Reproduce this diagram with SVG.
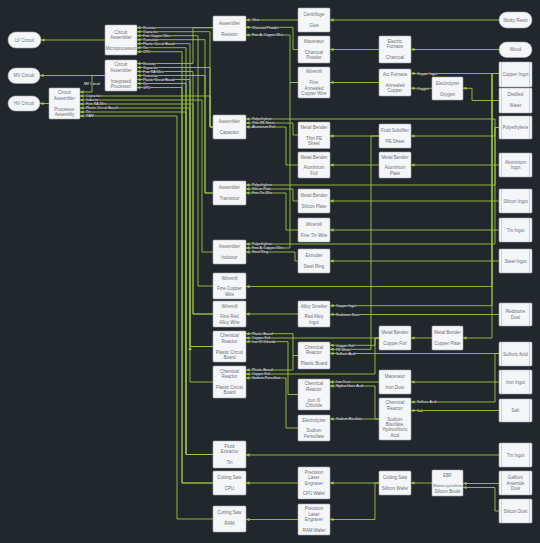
<svg xmlns="http://www.w3.org/2000/svg" width="540" height="543" viewBox="0 0 540 543">
<style>
.bg{fill:#22262d}
.nd rect{fill:#f5f6f8;stroke:#a7acb3;stroke-width:0.6}
.nd line{stroke:#a7acb3;stroke-width:0.5}
.nd text{font-family:"Liberation Sans",Arial,sans-serif;font-size:4.5px;fill:#6b7079;text-anchor:middle}
.cn path{fill:none;stroke:#9cc63b;stroke-width:0.9;marker-end:url(#a)}
.cn text{font-family:"Liberation Sans",Arial,sans-serif;font-size:3.5px;fill:#ffffff;stroke:#22262d;stroke-width:0.6;paint-order:stroke}
</style>
<defs>
<marker id="a" viewBox="0 0 4 4" refX="4" refY="2" markerWidth="3.5" markerHeight="3.5" markerUnits="userSpaceOnUse" orient="auto"><path d="M0,0 L4,2 L0,4z" fill="#9cc63b"/></marker>
</defs>
<rect class="bg" x="0" y="0" width="540" height="543"/>
<g id="connectors" class="cn">
<path d="M105,40 H41"/>
<path d="M105,75.5 H40"/>
<path d="M105,75.5 H92 V92 H80"/>
<path d="M49,103.5 H40"/>
<path d="M213,27.7 H137"/>
<path d="M213,27.7 H193 V63.5 H137"/>
<path d="M213,127 H210 V31.7 H137"/>
<path d="M213,127 H210 V67.5 H137"/>
<path d="M213,127 H210 V96 H80"/>
<path d="M213,286 H198 V35.7 H137"/>
<path d="M213,193 H205 V39.7 H137"/>
<path d="M213,193 H205 V75.5 H137"/>
<path d="M213,346.5 H190 V43.7 H137"/>
<path d="M213,346.5 H190 V79.5 H137"/>
<path d="M213,346.5 H190 V108 H80"/>
<path d="M213,382 H190 V346.5"/>
<path d="M213,454.5 H186 V47.7 H137"/>
<path d="M213,454.5 H186 V83.5 H137"/>
<path d="M213,454.5 H186 V112 H80"/>
<path d="M213,483 H182 V51.7 H137"/>
<path d="M213,483 H182 V87.5 H137"/>
<path d="M213,314 H193 V71.5 H137"/>
<path d="M213,314 H193 V104 H80"/>
<path d="M213,252 H202 V100 H80"/>
<path d="M213,519 H177 V116 H80"/>
<path d="M298,20 H246"/>
<path d="M298,49.5 H293 V27.3 H246"/>
<path d="M298,82.5 H290 V35 H246"/>
<path d="M499,20 H330"/>
<path d="M379,49.5 H330"/>
<path d="M499,49.5 H411"/>
<path d="M379,82.5 H330"/>
<path d="M499,73.5 H411"/>
<path d="M432,88.3 H411"/>
<path d="M499,100.5 H472 V88.3 H463"/>
<path d="M499,127.5 H495 V119 H246"/>
<path d="M298,135 H293 V123 H246"/>
<path d="M298,165 H286 V127 H246"/>
<path d="M379,136 H330"/>
<path d="M499,127.5 H495 V136 H411"/>
<path d="M379,165 H330"/>
<path d="M499,165 H411"/>
<path d="M499,127.5 H495 V185 H246"/>
<path d="M298,201 H293 V189 H246"/>
<path d="M298,230 H286 V193 H246"/>
<path d="M499,201 H330"/>
<path d="M499,230 H330"/>
<path d="M499,127.5 H495 V244 H246"/>
<path d="M298,82.5 H290 V248 H246"/>
<path d="M298,261 H295 V252 H246"/>
<path d="M499,261 H330"/>
<path d="M499,73.5 H492 V286.5 H246"/>
<path d="M298,314 H246"/>
<path d="M499,73.5 H492 V305.7 H330"/>
<path d="M499,314.5 H330"/>
<path d="M298,355.5 H293 V333.7 H246"/>
<path d="M379,338 H246"/>
<path d="M298,394.5 H288 V341.7 H246"/>
<path d="M379,338 H375 V345.3 H330"/>
<path d="M379,136 H371 V349.3 H330"/>
<path d="M499,353.5 H330"/>
<path d="M298,355.5 H293 V370 H246"/>
<path d="M379,338 H375 V374 H246"/>
<path d="M298,428 H286 V378 H246"/>
<path d="M432,338 H411"/>
<path d="M499,73.5 H492 V338 H463"/>
<path d="M379,382 H330"/>
<path d="M379,419 H375 V386 H330"/>
<path d="M499,382 H411"/>
<path d="M499,353.5 H495 V402 H411"/>
<path d="M499,410.5 H411"/>
<path d="M379,419 H330"/>
<path d="M499,455 H246"/>
<path d="M298,483 H246"/>
<path d="M379,483 H330"/>
<path d="M379,483 H375 V519.5 H330"/>
<path d="M298,519.5 H246"/>
<path d="M432,483 H411"/>
<path d="M499,483.5 H463"/>
<path d="M499,511 H495 V487.5 H463"/>
<text x="143" y="28.9">Resistor</text>
<text x="143" y="32.9">Capacitor</text>
<text x="143" y="36.9">Fine Copper Wire</text>
<text x="143" y="40.9">Transistor</text>
<text x="143" y="44.9">Plastic Circuit Board</text>
<text x="143" y="48.9">Tin</text>
<text x="143" y="52.9">CPU</text>
<text x="143" y="64.7">Resistor</text>
<text x="143" y="68.7">Capacitor</text>
<text x="143" y="72.7">Fine RA Wire</text>
<text x="143" y="76.7">Transistor</text>
<text x="143" y="80.7">Plastic Circuit Board</text>
<text x="143" y="84.7">Tin</text>
<text x="143" y="88.7">CPU</text>
<text x="86" y="97.2">Capacitor</text>
<text x="86" y="101.2">Inductor</text>
<text x="86" y="105.2">Fine RA Wire</text>
<text x="86" y="109.2">Plastic Circuit Board</text>
<text x="86" y="113.2">Tin</text>
<text x="86" y="117.2">RAM</text>
<text x="92" y="84.7" text-anchor="middle">MV Circuit</text>
<text x="252" y="21.2">Glue</text>
<text x="252" y="28.5">Charcoal Powder</text>
<text x="252" y="36.2">Fine A. Copper Wire</text>
<text x="417" y="74.7">Copper Ingot</text>
<text x="417" y="89.5">Oxygen</text>
<text x="252" y="120.2">Polyethylene</text>
<text x="252" y="124.2">Thin PE Sheet</text>
<text x="252" y="128.2">Aluminium Foil</text>
<text x="252" y="186.2">Polyethylene</text>
<text x="252" y="190.2">Silicon Plate</text>
<text x="252" y="194.2">Fine Tin Wire</text>
<text x="252" y="245.2">Polyethylene</text>
<text x="252" y="249.2">Fine A. Copper Wire</text>
<text x="252" y="253.2">Steel Ring</text>
<text x="336" y="306.9">Copper Ingot</text>
<text x="336" y="315.7">Redstone Dust</text>
<text x="252" y="334.9">Plastic Board</text>
<text x="252" y="338.9">Copper Foil</text>
<text x="252" y="342.9">Iron III Chloride</text>
<text x="336" y="346.5">Copper Foil</text>
<text x="336" y="350.5">PE Sheet</text>
<text x="336" y="354.7">Sulfuric Acid</text>
<text x="252" y="371.2">Plastic Board</text>
<text x="252" y="375.2">Copper Foil</text>
<text x="252" y="379.2">Sodium Persulfate</text>
<text x="336" y="383.2">Iron Dust</text>
<text x="336" y="387.2">Hydrochloric Acid</text>
<text x="417" y="403.2">Sulfuric Acid</text>
<text x="417" y="411.7">Salt</text>
<text x="336" y="420.2">Sodium Bisulfate</text>
</g>
<g class="nd">
<g id="lv-circuit"><rect x="8" y="32" width="33" height="16" rx="8"/><text x="24.5" y="41.6">LV Circuit</text></g>
<g id="mv-circuit"><rect x="8" y="68" width="32" height="15.5" rx="7.75"/><text x="24" y="77.1">MV Circuit</text></g>
<g id="hv-circuit"><rect x="8" y="96" width="32" height="15" rx="7.5"/><text x="24" y="105.1">HV Circuit</text></g>
<g id="microprocessor"><rect x="105" y="25" width="32" height="30" rx="1"/><text x="121" y="33.5">Circuit</text><text x="121" y="38.9">Assembler</text><text x="121" y="49.7">Microprocessor</text></g>
<g id="integrated-processor"><rect x="105" y="60" width="32" height="31" rx="1"/><text x="121" y="66.3">Circuit</text><text x="121" y="71.7">Assembler</text><text x="121" y="82.5">Integrated</text><text x="121" y="87.9">Processor</text></g>
<g id="processor-assembly"><rect x="49" y="88" width="31" height="31" rx="1"/><text x="64.5" y="94.3">Circuit</text><text x="64.5" y="99.7">Assembler</text><text x="64.5" y="110.5">Processor</text><text x="64.5" y="115.9">Assembly</text></g>
<g id="resistor"><rect x="213" y="16" width="33" height="25" rx="1"/><text x="229.5" y="24.7">Assembler</text><text x="229.5" y="35.5">Resistor</text></g>
<g id="glue"><rect x="298" y="8" width="32" height="24" rx="1"/><text x="314" y="16.2">Centrifuge</text><text x="314" y="27">Glue</text></g>
<g id="charcoal-powder"><rect x="298" y="36" width="32" height="27" rx="1"/><text x="314" y="43">Macerator</text><text x="314" y="53.8">Charcoal</text><text x="314" y="59.2">Powder</text></g>
<g id="fine-annealed-copper-wire"><rect x="298" y="67" width="32" height="31" rx="1"/><text x="314" y="73.3">Wiremill</text><text x="314" y="84.1">Fine</text><text x="314" y="89.5">Annealed</text><text x="314" y="94.9">Copper Wire</text></g>
<g id="charcoal"><rect x="379" y="36" width="32" height="27" rx="1"/><text x="395" y="43">Electric</text><text x="395" y="48.4">Furnace</text><text x="395" y="59.2">Charcoal</text></g>
<g id="annealed-copper"><rect x="379" y="69" width="32" height="27" rx="1"/><text x="395" y="76">Arc Furnace</text><text x="395" y="86.8">Annealed</text><text x="395" y="92.2">Copper</text></g>
<g id="oxygen"><rect x="432" y="77" width="31" height="23" rx="1"/><text x="447.5" y="84.7">Electrolyzer</text><text x="447.5" y="95.5">Oxygen</text></g>
<g id="sticky-resin"><rect x="499" y="12" width="33" height="16" rx="8"/><text x="515.5" y="21.6">Sticky Resin</text></g>
<g id="wood"><rect x="499" y="42" width="33" height="15.5" rx="7.75"/><text x="515.5" y="51.3">Wood</text></g>
<g id="copper-ingot"><rect x="499" y="62" width="33" height="25" rx="1"/><line x1="501.5" y1="62" x2="501.5" y2="87"/><line x1="529.5" y1="62" x2="529.5" y2="87"/><text x="515.5" y="76.1">Copper Ingot</text></g>
<g id="water"><rect x="499" y="88" width="33" height="25" rx="1"/><line x1="501.5" y1="88" x2="501.5" y2="113"/><line x1="529.5" y1="88" x2="529.5" y2="113"/><text x="515.5" y="95.9">Distilled</text><text x="515.5" y="107.4">Water</text></g>
<g id="polyethylene"><rect x="499" y="116" width="33" height="23" rx="1"/><line x1="501.5" y1="116" x2="501.5" y2="139"/><line x1="529.5" y1="116" x2="529.5" y2="139"/><text x="515.5" y="129.1">Polyethylene</text></g>
<g id="capacitor"><rect x="213" y="115" width="33" height="24" rx="1"/><text x="229.5" y="123.2">Assembler</text><text x="229.5" y="134">Capacitor</text></g>
<g id="thin-pe-sheet"><rect x="298" y="122" width="32" height="26.5" rx="1"/><text x="314" y="128.8">Metal Bender</text><text x="314" y="139.6">Thin PE</text><text x="314" y="145">Sheet</text></g>
<g id="pe-sheet"><rect x="379" y="124" width="32" height="24" rx="1"/><text x="395" y="132.2">Fluid Solidifier</text><text x="395" y="143">PE Sheet</text></g>
<g id="aluminium-foil"><rect x="298" y="152" width="32" height="26" rx="1"/><text x="314" y="158.5">Metal Bender</text><text x="314" y="169.3">Aluminium</text><text x="314" y="174.7">Foil</text></g>
<g id="aluminium-plate"><rect x="379" y="152" width="32" height="26" rx="1"/><text x="395" y="158.5">Metal Bender</text><text x="395" y="169.3">Aluminium</text><text x="395" y="174.7">Plate</text></g>
<g id="aluminium-ingot"><rect x="499" y="153" width="33" height="24" rx="1"/><line x1="501.5" y1="153" x2="501.5" y2="177"/><line x1="529.5" y1="153" x2="529.5" y2="177"/><text x="515.5" y="163.9">Aluminium</text><text x="515.5" y="169.3">Ingot</text></g>
<g id="transistor"><rect x="213" y="181" width="33" height="24" rx="1"/><text x="229.5" y="189.2">Assembler</text><text x="229.5" y="200">Transistor</text></g>
<g id="silicon-plate"><rect x="298" y="189" width="32" height="24" rx="1"/><text x="314" y="197.2">Metal Bender</text><text x="314" y="208">Silicon Plate</text></g>
<g id="silicon-ingot"><rect x="499" y="189" width="33" height="24" rx="1"/><line x1="501.5" y1="189" x2="501.5" y2="213"/><line x1="529.5" y1="189" x2="529.5" y2="213"/><text x="515.5" y="202.6">Silicon Ingot</text></g>
<g id="fine-tin-wire"><rect x="298" y="218" width="32" height="24" rx="1"/><text x="314" y="226.2">Wiremill</text><text x="314" y="237">Fine Tin Wire</text></g>
<g id="tin-ingot"><rect x="499" y="218" width="33" height="24" rx="1"/><line x1="501.5" y1="218" x2="501.5" y2="242"/><line x1="529.5" y1="218" x2="529.5" y2="242"/><text x="515.5" y="231.6">Tin Ingot</text></g>
<g id="inductor"><rect x="213" y="240" width="33" height="24" rx="1"/><text x="229.5" y="248.2">Assembler</text><text x="229.5" y="259">Inductor</text></g>
<g id="steel-ring"><rect x="298" y="249" width="32" height="24" rx="1"/><text x="314" y="257.2">Extruder</text><text x="314" y="268">Steel Ring</text></g>
<g id="steel-ingot"><rect x="499" y="249" width="33" height="24" rx="1"/><line x1="501.5" y1="249" x2="501.5" y2="273"/><line x1="529.5" y1="249" x2="529.5" y2="273"/><text x="515.5" y="262.6">Steel Ingot</text></g>
<g id="fine-copper-wire"><rect x="213" y="273" width="33" height="26" rx="1"/><text x="229.5" y="279.5">Wiremill</text><text x="229.5" y="290.3">Fine Copper</text><text x="229.5" y="295.7">Wire</text></g>
<g id="fine-red-alloy-wire"><rect x="213" y="301" width="33" height="26" rx="1"/><text x="229.5" y="307.5">Wiremill</text><text x="229.5" y="318.3">Fine Red</text><text x="229.5" y="323.7">Alloy Wire</text></g>
<g id="red-alloy-ingot"><rect x="298" y="301" width="32" height="26" rx="1"/><text x="314" y="307.5">Alloy Smelter</text><text x="314" y="318.3">Red Alloy</text><text x="314" y="323.7">Ingot</text></g>
<g id="redstone-dust"><rect x="499" y="303" width="33" height="23" rx="1"/><line x1="501.5" y1="303" x2="501.5" y2="326"/><line x1="529.5" y1="303" x2="529.5" y2="326"/><text x="515.5" y="313.4">Redstone</text><text x="515.5" y="318.8">Dust</text></g>
<g id="plastic-circuit-board-1"><rect x="213" y="331" width="33" height="31" rx="1"/><text x="229.5" y="337.3">Chemical</text><text x="229.5" y="342.7">Reactor</text><text x="229.5" y="353.5">Plastic Circuit</text><text x="229.5" y="358.9">Board</text></g>
<g id="plastic-board"><rect x="298" y="342" width="32" height="27" rx="1"/><text x="314" y="349">Chemical</text><text x="314" y="354.4">Reactor</text><text x="314" y="365.2">Plastic Board</text></g>
<g id="plastic-circuit-board-2"><rect x="213" y="366" width="33" height="32" rx="1"/><text x="229.5" y="372.8">Chemical</text><text x="229.5" y="378.2">Reactor</text><text x="229.5" y="389">Plastic Circuit</text><text x="229.5" y="394.4">Board</text></g>
<g id="copper-foil"><rect x="379" y="326" width="32" height="24" rx="1"/><text x="395" y="334.2">Metal Bender</text><text x="395" y="345">Copper Foil</text></g>
<g id="copper-plate"><rect x="432" y="326" width="31" height="24" rx="1"/><text x="447.5" y="334.2">Metal Bender</text><text x="447.5" y="345">Copper Plate</text></g>
<g id="sulfuric-acid"><rect x="499" y="342" width="33" height="24" rx="1"/><line x1="501.5" y1="342" x2="501.5" y2="366"/><line x1="529.5" y1="342" x2="529.5" y2="366"/><text x="515.5" y="355.6">Sulfuric Acid</text></g>
<g id="iron-iii-chloride"><rect x="298" y="379" width="32" height="31" rx="1"/><text x="314" y="385.3">Chemical</text><text x="314" y="390.7">Reactor</text><text x="314" y="401.5">Iron III</text><text x="314" y="406.9">Chloride</text></g>
<g id="iron-dust"><rect x="379" y="370" width="32" height="24" rx="1"/><text x="395" y="378.2">Macerator</text><text x="395" y="389">Iron Dust</text></g>
<g id="iron-ingot"><rect x="499" y="370" width="33" height="24" rx="1"/><line x1="501.5" y1="370" x2="501.5" y2="394"/><line x1="529.5" y1="370" x2="529.5" y2="394"/><text x="515.5" y="383.6">Iron Ingot</text></g>
<g id="sodium-bisulfate"><rect x="379" y="398" width="32" height="42" rx="1"/><text x="395" y="404.4">Chemical</text><text x="395" y="409.8">Reactor</text><text x="395" y="420.6">Sodium</text><text x="395" y="426">Bisulfate,</text><text x="395" y="431.4">Hydrochloric</text><text x="395" y="436.8">Acid</text></g>
<g id="salt"><rect x="499" y="399" width="33" height="23" rx="1"/><line x1="501.5" y1="399" x2="501.5" y2="422"/><line x1="529.5" y1="399" x2="529.5" y2="422"/><text x="515.5" y="412.1">Salt</text></g>
<g id="sodium-persulfate"><rect x="298" y="415" width="32" height="26" rx="1"/><text x="314" y="421.5">Electrolyzer</text><text x="314" y="432.3">Sodium</text><text x="314" y="437.7">Persulfate</text></g>
<g id="tin"><rect x="213" y="441" width="33" height="27" rx="1"/><text x="229.5" y="448">Fluid</text><text x="229.5" y="453.4">Extractor</text><text x="229.5" y="464.2">Tin</text></g>
<g id="tin-ingot-2"><rect x="499" y="443" width="33" height="24" rx="1"/><line x1="501.5" y1="443" x2="501.5" y2="467"/><line x1="529.5" y1="443" x2="529.5" y2="467"/><text x="515.5" y="456.6">Tin Ingot</text></g>
<g id="cpu"><rect x="213" y="471" width="33" height="24" rx="1"/><text x="229.5" y="479.2">Cutting Saw</text><text x="229.5" y="490">CPU</text></g>
<g id="cpu-wafer"><rect x="298" y="467" width="32" height="32" rx="1"/><text x="314" y="473.8">Precision</text><text x="314" y="479.2">Laser</text><text x="314" y="484.6">Engraver</text><text x="314" y="495.4">CPU Wafer</text></g>
<g id="silicon-wafer"><rect x="379" y="471" width="32" height="24" rx="1"/><text x="395" y="479.2">Cutting Saw</text><text x="395" y="490">Silicon Wafer</text></g>
<g id="silicon-boule"><rect x="432" y="470" width="31" height="26" rx="1"/><text x="447.5" y="476.5">EBF</text><text x="447.5" y="487.3" style="font-size:4.2px">Monocrystalline</text><text x="447.5" y="492.7">Silicon Boule</text></g>
<g id="gallium-arsenide-dust"><rect x="499" y="471" width="33" height="24" rx="1"/><line x1="501.5" y1="471" x2="501.5" y2="495"/><line x1="529.5" y1="471" x2="529.5" y2="495"/><text x="515.5" y="479.2">Gallium</text><text x="515.5" y="484.6">Arsenide</text><text x="515.5" y="490">Dust</text></g>
<g id="silicon-dust"><rect x="499" y="499" width="33" height="24" rx="1"/><line x1="501.5" y1="499" x2="501.5" y2="523"/><line x1="529.5" y1="499" x2="529.5" y2="523"/><text x="515.5" y="512.6">Silicon Dust</text></g>
<g id="ram"><rect x="213" y="506" width="33" height="26" rx="1"/><text x="229.5" y="514.2">Cutting Saw</text><text x="229.5" y="525">RAM</text></g>
<g id="ram-wafer"><rect x="298" y="504" width="32" height="31" rx="1"/><text x="314" y="510.3">Precision</text><text x="314" y="515.7">Laser</text><text x="314" y="521.1">Engraver</text><text x="314" y="531.9">RAM Wafer</text></g>
</g>
</svg>
